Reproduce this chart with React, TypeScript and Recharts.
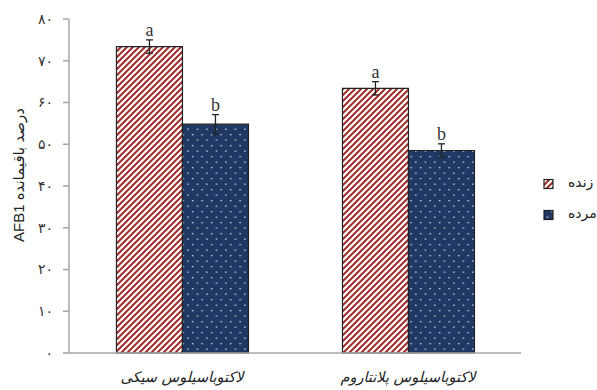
import React from 'react';
import { BarChart, Bar, XAxis, YAxis, ErrorBar, LabelList, Legend } from 'recharts';

const categories = ['لاکتوباسیلوس سیکی', 'لاکتوباسیلوس پلانتاروم'];
const seriesNames = ['زنده', 'مرده'];
const liveValues = [73.4, 63.4];
const deadValues = [54.8, 48.5];
const liveErrors = [1.6, 1.6];
const deadErrors = [2.3, 1.6];
const liveLetters = ['a', 'a'];
const deadLetters = ['b', 'b'];
const yTicks = [0, 10, 20, 30, 40, 50, 60, 70, 80];
const yTickLabels = ['۰', '۱۰', '۲۰', '۳۰', '۴۰', '۵۰', '۶۰', '۷۰', '۸۰'];
const boundaryTicks = [0, 1, 2];
const yLabel = 'AFB1 درصد باقیمانده';

const data = categories.map((c, i) => ({
  name: c,
  live: liveValues[i],
  dead: deadValues[i],
  liveErr: liveErrors[i],
  deadErr: deadErrors[i],
  liveLetter: liveLetters[i],
  deadLetter: deadLetters[i],
}));

const W = 597;
const H = 390;
const MARGIN = { top: 19, right: 76, bottom: 6, left: 0 };
const PLOT_TOP = 19;
const PLOT_BOTTOM = 353;
const PX_PER_UNIT = (PLOT_BOTTOM - PLOT_TOP) / 80;

const RED = '#9e2c2c';
const BLUE = '#1f3864';
const AXIS = '#a6a6a6';

const makeLetter = (errs: number[]) => (props: any) => {
  const vb = props.viewBox || props;
  const x = vb.x ?? props.x;
  const y = vb.y ?? props.y;
  const w = vb.width ?? props.width;
  const idx = props.index ?? 0;
  const e = errs[idx] ?? 0;
  return (
    <text
      x={x + w / 2}
      y={y - e * PX_PER_UNIT - 4}
      textAnchor="middle"
      fontFamily="'Liberation Serif', serif"
      fontSize={18}
      fill="#333"
    >
      {props.value}
    </text>
  );
};

const CatTick = (props: any) => {
  const { x, y, payload } = props;
  return (
    <text
      x={x}
      y={y}
      dy={21}
      textAnchor="middle"
      fontFamily="'DejaVu Sans', sans-serif"
      fontStyle="italic"
      fontSize={14.5}
      fill="#222"
    >
      {payload.value}
    </text>
  );
};

const LegendContent = () => (
  <svg width={57} height={70}>
    {seriesNames.map((n, i) => {
      const cy = 19 + i * 31;
      return (
        <g key={n}>
          <rect
            x={4}
            y={cy - 4.5}
            width={9}
            height={9}
            fill={i === 0 ? 'url(#redStripes)' : 'url(#blueDots)'}
            stroke="#222"
            strokeWidth={1.2}
          />
          <text
            x={28}
            y={cy + 3}
            fontFamily="'DejaVu Sans', sans-serif"
            fontSize={14}
            fill="#222"
          >
            {n}
          </text>
        </g>
      );
    })}
  </svg>
);

export default function App() {
  return (
    <div style={{ position: 'absolute', left: 0, top: 0, width: W, height: H, background: '#fff' }}>
      <BarChart
        width={W}
        height={H}
        data={data}
        margin={MARGIN}
        barCategoryGap="21%"
        barGap={0}
      >
        <defs>
          <pattern id="redStripes" patternUnits="userSpaceOnUse" width={6} height={6}>
            <rect x={0} y={0} width={6} height={6} fill="#fff" />
            <path
              d="M-1.5,1.5 L1.5,-1.5 M0,6 L6,0 M4.5,7.5 L7.5,4.5"
              stroke={RED}
              strokeWidth={2}
            />
          </pattern>
          <pattern id="blueDots" patternUnits="userSpaceOnUse" width={9.5} height={11}>
            <rect x={0} y={0} width={9.5} height={11} fill={BLUE} />
            <rect x={2} y={2} width={1.3} height={1.3} fill="#dfe6f0" />
            <rect x={6.75} y={7.5} width={1.3} height={1.3} fill="#dfe6f0" />
          </pattern>
        </defs>
        <XAxis
          xAxisId="cat"
          dataKey="name"
          height={1}
          axisLine={{ stroke: AXIS, strokeWidth: 1.5 }}
          tickLine={false}
          tick={<CatTick />}
          interval={0}
        />
        <XAxis
          xAxisId="edge"
          type="number"
          domain={[0, 2]}
          ticks={boundaryTicks}
          height={30}
          axisLine={false}
          tick={false}
          tickLine={{ stroke: AXIS, strokeWidth: 1.5 }}
          tickSize={5}
        />
        <YAxis
          width={69}
          domain={[0, 80]}
          ticks={yTicks}
          interval={0}
          tickSize={6}
          tickMargin={10}
          axisLine={{ stroke: AXIS, strokeWidth: 1.5 }}
          tickLine={{ stroke: AXIS, strokeWidth: 1.5 }}
          tick={{ fill: '#333', fontSize: 14, fontFamily: "'DejaVu Sans', sans-serif" }}
          tickFormatter={(v: number) => yTickLabels[yTicks.indexOf(v)]}
          label={{
            content: (p: any) => {
              const vb = p.viewBox || {};
              const cx = 18;
              const cy = (vb.y ?? 19) + (vb.height ?? 334) / 2 - 11;
              return (
                <text
                  x={cx}
                  y={cy}
                  transform={`rotate(-90, ${cx}, ${cy})`}
                  textAnchor="middle"
                  dominantBaseline="central"
                  fontFamily="'Liberation Sans', 'DejaVu Sans', sans-serif"
                  fontSize={15}
                  fill="#222"
                >
                  {yLabel}
                </text>
              );
            },
          }}
        />
        <Legend
          layout="horizontal"
          verticalAlign="middle"
          align="center"
          content={<LegendContent />}
          wrapperStyle={{ left: 540, top: 165, width: 57, height: 70 }}
        />
        <Bar
          xAxisId="cat"
          dataKey="live"
          name={seriesNames[0]}
          fill="url(#redStripes)"
          stroke="#222"
          strokeWidth={1.2}
          isAnimationActive={false}
        >
          <ErrorBar dataKey="liveErr" width={3.5} stroke="#222" strokeWidth={1.3} direction="y" />
          <LabelList dataKey="liveLetter" content={makeLetter(liveErrors)} />
        </Bar>
        <Bar
          xAxisId="cat"
          dataKey="dead"
          name={seriesNames[1]}
          fill="url(#blueDots)"
          stroke="#222"
          strokeWidth={1.2}
          isAnimationActive={false}
        >
          <ErrorBar dataKey="deadErr" width={3.5} stroke="#222" strokeWidth={1.3} direction="y" />
          <LabelList dataKey="deadLetter" content={makeLetter(deadErrors)} />
        </Bar>
      </BarChart>
    </div>
  );
}
